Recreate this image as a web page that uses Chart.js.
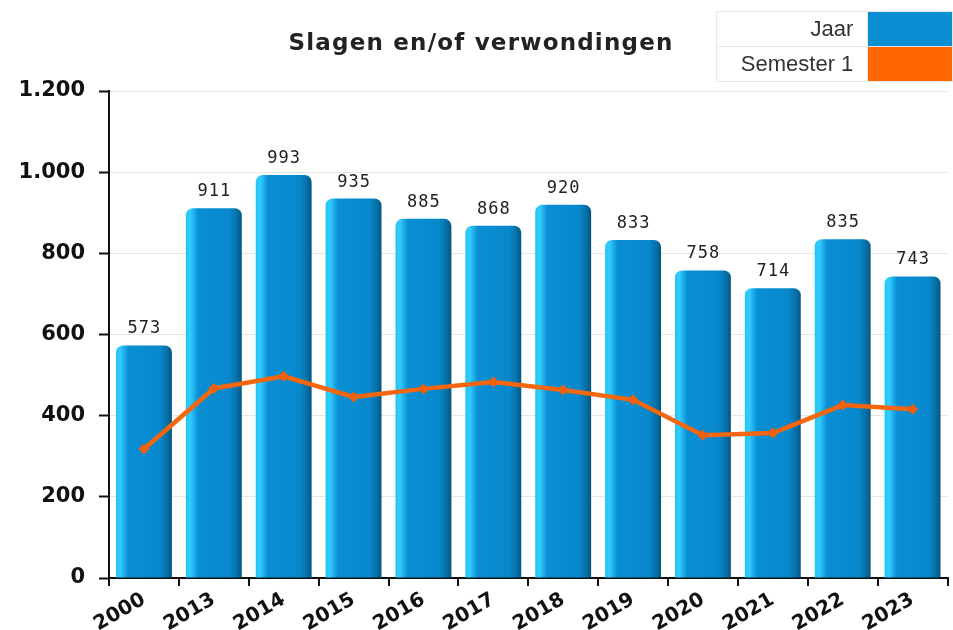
<!DOCTYPE html>
<html>
<head>
<meta charset="utf-8">
<script src="https://cdn.jsdelivr.net/npm/chart.js@4/dist/chart.umd.min.js"></script>
<style>
  html, body { margin: 0; padding: 0; background: #fff; }
  #wrap { position: relative; width: 953px; height: 630px; }
  #legend { position: absolute; left: 716px; top: 11px; border-collapse: collapse; font-family: "Liberation Sans", Arial, sans-serif; font-size: 22px; color: #333; }
  #legend td { border: 1px solid #e6e6e6; height: 34px; padding: 0; }
  #legend td.lbl { width: 137px; text-align: right; padding-right: 14px; }
  #legend td.sw { width: 85px; }
</style>
</head>
<body>
<div id="wrap">
  <canvas id="c" width="953" height="630"></canvas>
  <table id="legend">
    <tr><td class="lbl">Jaar</td><td class="sw" style="background:#0a8fd4"></td></tr>
    <tr><td class="lbl">Semester 1</td><td class="sw" style="background:#ff6600"></td></tr>
  </table>
</div>
<script>
const titleText = "Slagen en/of verwondingen";
const categories = ["2000","2013","2014","2015","2016","2017","2018","2019","2020","2021","2022","2023"];
const jaarValues = [573, 911, 993, 935, 885, 868, 920, 833, 758, 714, 835, 743];
const semester1Values = [318, 467, 497, 446, 466, 483, 463, 439, 352, 357, 426, 416];
const yTicks = [0, 200, 400, 600, 800, 1000, 1200];

function fmt(v) {
  return String(v).replace(/\B(?=(\d{3})+(?!\d))/g, ".");
}

const barGradientPlugin = {
  id: 'barGradient',
  beforeDatasetsDraw(chart) {
    const ctx = chart.ctx;
    chart.data.datasets.forEach((ds, di) => {
      if (ds.type !== 'bar') return;
      const meta = chart.getDatasetMeta(di);
      meta.data.forEach(el => {
        const l = el.x - el.width / 2, r = el.x + el.width / 2;
        const g = ctx.createLinearGradient(l, 0, r, 0);
        g.addColorStop(0, '#22c4f6');
        g.addColorStop(0.08, '#33ccff');
        g.addColorStop(0.22, '#0a8fd4');
        g.addColorStop(0.78, '#0888cc');
        g.addColorStop(0.92, '#066fa6');
        g.addColorStop(1, '#04557f');
        el.options.backgroundColor = g;
      });
    });
  }
};

const valueLabelPlugin = {
  id: 'valueLabels',
  afterDatasetsDraw(chart) {
    const ctx = chart.ctx;
    chart.data.datasets.forEach((ds, di) => {
      if (ds.type !== 'bar') return;
      const meta = chart.getDatasetMeta(di);
      ctx.save();
      ctx.font = '17px "DejaVu Sans Mono", monospace';
      try { ctx.letterSpacing = '1px'; } catch (e) {}
      ctx.fillStyle = '#222';
      ctx.textAlign = 'center';
      ctx.textBaseline = 'alphabetic';
      meta.data.forEach((el, i) => {
        ctx.fillText(String(ds.data[i]), el.x + 0.5, el.y - 12);
      });
      ctx.restore();
    });
  }
};

const titlePlugin = {
  id: 'titleDraw',
  afterDraw(chart) {
    const ctx = chart.ctx;
    ctx.save();
    ctx.font = 'bold 23px "DejaVu Sans", sans-serif';
    try { ctx.letterSpacing = '1.2px'; } catch (e) {}
    ctx.fillStyle = '#222';
    ctx.textAlign = 'center';
    ctx.textBaseline = 'alphabetic';
    ctx.fillText(titleText, 481, 50);
    ctx.restore();
  }
};

new Chart(document.getElementById('c'), {
  data: {
    labels: categories,
    datasets: [
      {
        type: 'line',
        label: 'Semester 1',
        data: semester1Values,
        borderColor: '#f5660f',
        backgroundColor: '#f5660f',
        borderWidth: 4.5,
        pointStyle: 'rectRot',
        pointRadius: 5.5,
        pointBackgroundColor: '#f0600c',
        pointBorderWidth: 0,
        tension: 0,
        order: 0
      },
      {
        type: 'bar',
        label: 'Jaar',
        data: jaarValues,
        backgroundColor: (c) => '#0a8fd4',
        borderRadius: { topLeft: 7, topRight: 7, bottomLeft: 0, bottomRight: 0 },
        borderSkipped: 'bottom',
        barPercentage: 0.8,
        categoryPercentage: 1.0,
        order: 1
      }
    ]
  },
  options: {
    responsive: false,
    animation: false,
    devicePixelRatio: 1,
    layout: { padding: { top: 91, right: 3, left: 0, bottom: 0 } },
    plugins: {
      legend: { display: false },
      title: { display: false },
      tooltip: { enabled: false }
    },
    scales: {
      x: {
        offset: true,
        grid: { display: true, drawOnChartArea: false, drawTicks: true, tickLength: 8, tickColor: '#111', offset: true, lineWidth: 2 },
        border: { display: true, color: '#111', width: 2 },
        ticks: {
          font: { family: '"DejaVu Sans", sans-serif', size: 20, weight: 'bold' },
          color: '#111',
          minRotation: 30,
          maxRotation: 30,
          padding: 2,
          autoSkip: false
        },
        afterFit(scale) { scale.height = 52; }
      },
      y: {
        min: 0,
        max: 1200,
        afterBuildTicks(scale) { scale.ticks = yTicks.map(v => ({ value: v })); },
        grid: { color: '#e6e6e6', lineWidth: 1, tickColor: '#111', tickLength: 10, tickWidth: 2 },
        border: { display: true, color: '#111', width: 2 },
        ticks: {
          font: { family: '"DejaVu Sans", sans-serif', size: 21, weight: 'bold' },
          color: '#111',
          padding: 14,
          callback: (v) => fmt(v)
        },
        afterFit(scale) { scale.width = 109; }
      }
    }
  },
  plugins: [barGradientPlugin, valueLabelPlugin, titlePlugin]
});
</script>
</body>
</html>
